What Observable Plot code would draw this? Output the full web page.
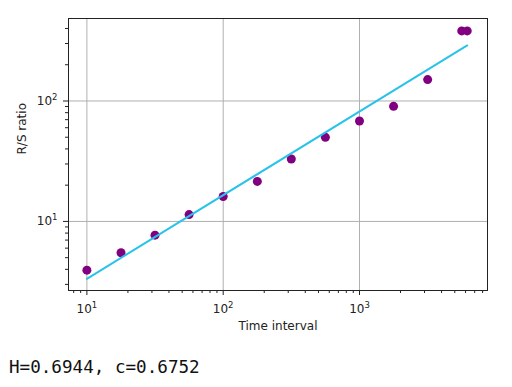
<!DOCTYPE html>
<html><head><meta charset="utf-8">
<script src="https://cdn.jsdelivr.net/npm/d3@7"></script>
<script src="https://cdn.jsdelivr.net/npm/@observablehq/plot@0.6"></script>
<style>
body{margin:0;background:#fff;}
#chart svg{display:block;}
#cap{font-family:"DejaVu Sans Mono",monospace;font-size:17.6px;line-height:20px;padding-top:17px;padding-left:9px;color:#111;white-space:pre;}
</style></head><body><div id="chart"></div><div id="cap"></div>
<script>
const timeIntervals = [10, 17.8, 31.6, 56.2, 100, 178, 316, 562, 1000, 1778, 3162, 5623, 6170];
const rsRatios = [3.94, 5.49, 7.69, 11.4, 16.1, 21.5, 33.0, 49.9, 68.2, 90.3, 150.6, 382, 382];
const fitX = [10, 6170];
const fitY = [3.34, 289];
const xMajorTicks = [10, 100, 1000];
const yMajorTicks = [10, 100];
const tickExponents = {10: "1", 100: "2", 1000: "3"};
const xLabel = "Time interval";
const yLabel = "R/S ratio";
const caption = "H=0.6944, c=0.6752";
const xDomain = [7.33, 8690];
const yDomain = [2.67, 484];

const points = timeIntervals.map((t, i) => ({t, rs: rsRatios[i]}));
const fit = fitX.map((t, i) => ({t, rs: fitY[i]}));
const xMinor = [], yMinor = [];
for (const d of [1, 10, 100, 1000]) for (let k = 2; k <= 9; k++) {
  const v = k * d;
  if (v >= xDomain[0] && v <= xDomain[1]) xMinor.push(v);
  if (v >= yDomain[0] && v <= yDomain[1]) yMinor.push(v);
}
const ink = "#222";
const fmt = d => "10^" + tickExponents[d];
const chart = Plot.plot({
  width: 512, height: 340,
  marginTop: 18, marginBottom: 50, marginLeft: 68, marginRight: 25,
  style: {fontFamily: "'DejaVu Sans', sans-serif", fontSize: "12px", color: ink, background: "#fff"},
  x: {type: "log", domain: xDomain},
  y: {type: "log", domain: yDomain},
  marks: [
    Plot.gridX(xMajorTicks, {stroke: "#b0b0b0", strokeOpacity: 1, strokeWidth: 1}),
    Plot.gridY(yMajorTicks, {stroke: "#b0b0b0", strokeOpacity: 1, strokeWidth: 1}),
    Plot.axisX(xMinor, {tickSize: 3, tickFormat: () => "", label: null}),
    Plot.axisY(yMinor, {tickSize: 3, tickFormat: () => "", label: null}),
    Plot.axisX(xMajorTicks, {tickSize: 5, tickPadding: 9, tickFormat: fmt, label: null, fontSize: 12}),
    Plot.axisY(yMajorTicks, {tickSize: 5, tickPadding: 6, tickFormat: fmt, label: null, fontSize: 12}),
    Plot.dot(points, {x: "t", y: "rs", r: 4.5, fill: "#800080"}),
    Plot.line(fit, {x: "t", y: "rs", stroke: "#29c3ea", strokeWidth: 2}),
    Plot.frame({stroke: ink}),
    Plot.text([xLabel], {text: d => d, frameAnchor: "bottom", dy: 36, lineAnchor: "middle", fontSize: 12, fill: ink}),
    Plot.text([yLabel], {text: d => d, frameAnchor: "left", dx: -46, rotate: -90, lineAnchor: "middle", fontSize: 12, fill: ink})
  ]
});
// render mathtext-like superscripts for the tick labels
chart.querySelectorAll("text").forEach(t => {
  const s = t.textContent;
  if (/^10\^\d$/.test(s)) {
    const exp = s.slice(3);
    t.textContent = "10";
    const ts = document.createElementNS("http://www.w3.org/2000/svg", "tspan");
    ts.setAttribute("font-size", "8.5");
    ts.setAttribute("dy", "-5");
    ts.textContent = exp;
    t.appendChild(ts);
  }
});
document.getElementById("chart").appendChild(chart);
document.getElementById("cap").textContent = caption;
</script></body></html>
